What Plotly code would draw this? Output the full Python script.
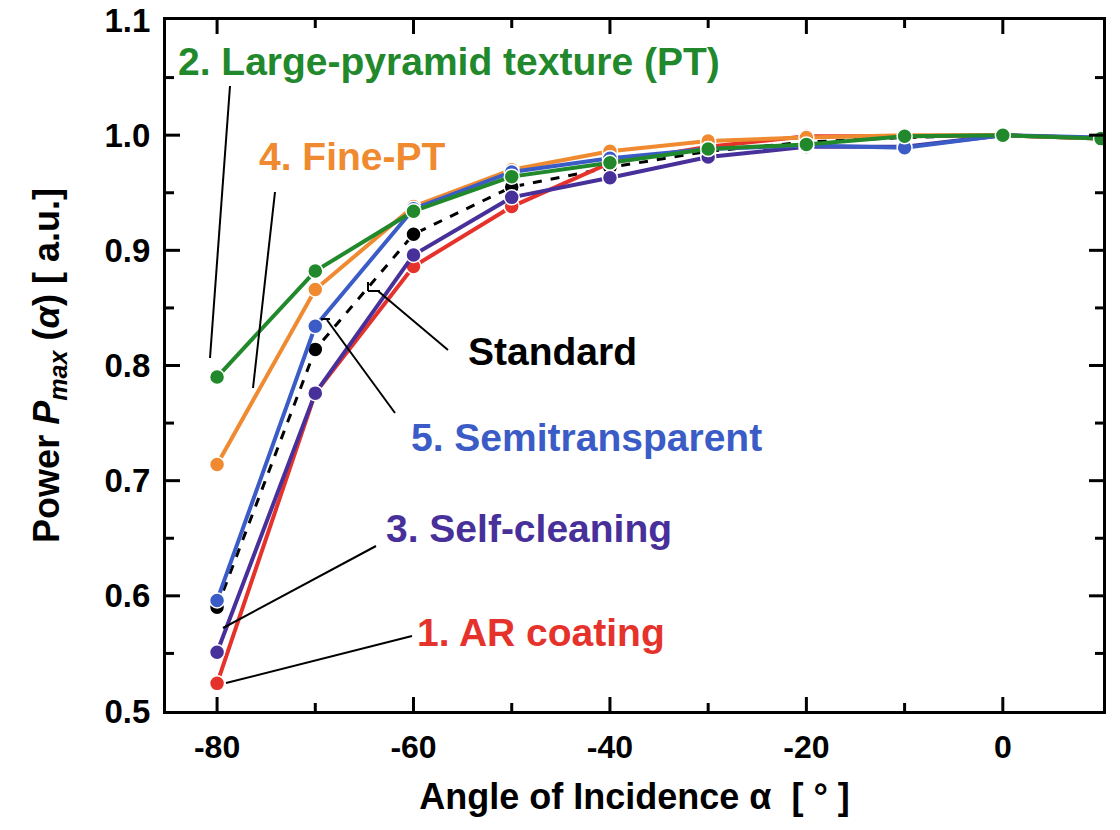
import plotly.graph_objects as go

# Angle of incidence (degrees) and normalised maximum power per module type
angles = [-80, -70, -60, -50, -40, -30, -20, -10, 0, 10]
standard = [0.590, 0.814, 0.914, 0.955, 0.972, 0.986, 0.994, 0.998, 1.000, 0.998]
ar_coating = [0.524, 0.776, 0.886, 0.938, 0.976, 0.990, 0.999, 0.999, 1.000, 0.997]
self_cleaning = [0.551, 0.776, 0.896, 0.946, 0.963, 0.981, 0.990, 0.990, 1.000, 0.997]
fine_pt = [0.714, 0.866, 0.938, 0.970, 0.986, 0.995, 0.998, 1.000, 1.000, 0.997]
semitransparent = [0.596, 0.834, 0.936, 0.968, 0.980, 0.988, 0.991, 0.989, 1.000, 0.998]
large_pt = [0.790, 0.882, 0.934, 0.964, 0.976, 0.988, 0.992, 0.999, 1.000, 0.997]

x_ticks = [-80, -60, -40, -20, 0]
x_ticklabels = ["-80", "-60", "-40", "-20", "0"]
x_minor = [-70, -50, -30, -10]
y_ticks = [0.5, 0.6, 0.7, 0.8, 0.9, 1.0, 1.1]
y_ticklabels = ["0.5", "0.6", "0.7", "0.8", "0.9", "1.0", "1.1"]
y_minor = [0.55, 0.65, 0.75, 0.85, 0.95, 1.05]

X_RANGE = [-85.2, 10.2]
Y_RANGE = [0.5, 1.1]

GREEN = "#21892b"
ORANGE = "#f08a30"
BLUE = "#3b5cc6"
PURPLE = "#47309a"
RED = "#e5332c"
BLACK = "#000000"

FONT = "Liberation Sans, Arial, sans-serif"

# plot-area geometry in pixels, used to place labels, leader lines and ticks
W, H = 1120, 830
L, R, T, B = 166, 17, 20, 119
PW, PH = W - L - R, H - T - B
MAJOR, MINOR = 14, 8


def px(x):
    return (x - L) / PW


def py(y):
    return (H - B - y) / PH


def fx(v):
    return (v - X_RANGE[0]) / (X_RANGE[1] - X_RANGE[0])


def fy(v):
    return (v - Y_RANGE[0]) / (Y_RANGE[1] - Y_RANGE[0])


fig = go.Figure()

series = [
    ("Standard", standard, BLACK, "dash", 3),
    ("1. AR coating", ar_coating, RED, "solid", 4),
    ("3. Self-cleaning", self_cleaning, PURPLE, "solid", 4),
    ("4. Fine-PT", fine_pt, ORANGE, "solid", 4),
    ("5. Semitransparent", semitransparent, BLUE, "solid", 4),
    ("2. Large-pyramid texture (PT)", large_pt, GREEN, "solid", 4),
]
for name, vals, col, dash, lw in series:
    fig.add_trace(go.Scatter(
        x=angles, y=vals, name=name, mode="lines+markers",
        line=dict(color=col, width=lw, dash=dash),
        marker=dict(color=col, size=15, line=dict(color="white", width=1.5)),
        showlegend=False,
    ))

# curve labels: (text, colour, left x px, centre y px)
labels = [
    ("2. Large-pyramid texture (PT)", GREEN, 176, 62),
    ("4. Fine-PT", ORANGE, 257, 157),
    ("Standard", BLACK, 466, 352),
    ("5. Semitransparent", BLUE, 409, 437),
    ("3. Self-cleaning", PURPLE, 384, 528),
    ("1. AR coating", RED, 415, 632),
]
annotations = []
for text, col, x0, y0 in labels:
    annotations.append(dict(
        text=text, x=px(x0), y=py(y0), xref="paper", yref="paper",
        xanchor="left", yanchor="middle", showarrow=False,
        font=dict(family=FONT, size=39, color=col, weight="bold"),
    ))

# leader lines from labels to their curves
leaders = [
    (230, 86, 210, 358),
    (275, 192, 253, 388),
    (448, 350, 378, 291),
    (368, 282, 368, 291),
    (368, 291, 380, 291),
    (395, 413, 327, 320),
    (321, 319, 330, 319),
    (376, 546, 223, 628),
    (412, 636, 226, 683),
]
shapes = []
for x0, y0, x1, y1 in leaders:
    shapes.append(dict(
        type="line", xref="paper", yref="paper",
        x0=px(x0), y0=py(y0), x1=px(x1), y1=py(y1),
        line=dict(color="black", width=2),
    ))

# inward tick marks on all four sides of the frame
for vals, ln in ((x_ticks, MAJOR), (x_minor, MINOR)):
    for v in vals:
        for base, sgn in ((0, 1), (1, -1)):
            shapes.append(dict(type="line", xref="paper", yref="paper",
                               x0=fx(v), x1=fx(v),
                               y0=base, y1=base + sgn * ln / PH,
                               line=dict(color="black", width=3)))
for vals, ln in ((y_ticks[1:-1], MAJOR), (y_minor, MINOR)):
    for v in vals:
        for base, sgn in ((0, 1), (1, -1)):
            shapes.append(dict(type="line", xref="paper", yref="paper",
                               y0=fy(v), y1=fy(v),
                               x0=base, x1=base + sgn * ln / PW,
                               line=dict(color="black", width=3)))

fig.update_layout(
    width=W, height=H,
    margin=dict(l=L, r=R, t=T, b=B),
    paper_bgcolor="white", plot_bgcolor="white",
    annotations=annotations, shapes=shapes,
    xaxis=dict(
        range=X_RANGE, tickvals=x_ticks, ticktext=x_ticklabels,
        showline=True, linecolor="black", linewidth=3, mirror=True,
        ticks="", showgrid=False, zeroline=False, automargin=False,
        tickfont=dict(family=FONT, size=32, color="black", weight="bold"),
        ticklabelstandoff=6,
        title=dict(text="Angle of Incidence α  [ ° ]", standoff=20,
                   font=dict(family=FONT, size=36, color="black", weight="bold")),
    ),
    yaxis=dict(
        range=Y_RANGE, tickvals=y_ticks, ticktext=y_ticklabels,
        ticksuffix="\u2009",
        showline=True, linecolor="black", linewidth=3, mirror=True,
        ticks="", showgrid=False, zeroline=False, automargin=False,
        tickfont=dict(family=FONT, size=33, color="black", weight="bold"),
        ticklabelstandoff=6,
        title=dict(text="Power <i>P</i><sub><i>max</i></sub> (<i>α</i>) [ a.u.]",
                   standoff=34,
                   font=dict(family=FONT, size=36, color="black", weight="bold")),
    ),
)

fig.write_html("out.html")
